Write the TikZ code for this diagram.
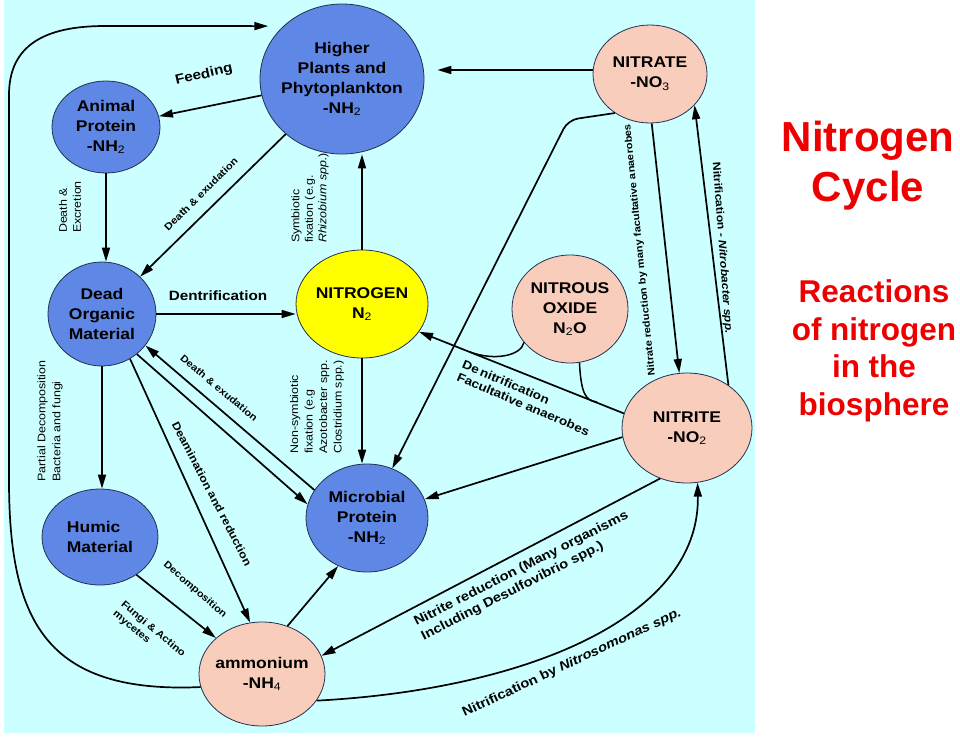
\documentclass[tikz,border=0pt]{standalone}
\usepackage{fontspec}
\setmainfont{Liberation Sans}
\newfontfamily\diafont[FakeStretch=1.13]{Liberation Sans}
\newfontfamily\titlefont{Liberation Sans}
\usepackage{tikz}
\usetikzlibrary{arrows.meta,shapes.geometric,positioning}
\usepackage{xcolor}
\definecolor{CycSky}{HTML}{CCFFFF}
\definecolor{CycBlue}{HTML}{5F88E6}
\definecolor{CycPeach}{HTML}{F9CDBC}
\definecolor{CycYellow}{HTML}{FFFF00}
\definecolor{CycEdge}{HTML}{22304F}
\definecolor{CycRed}{HTML}{EE0000}
\newcommand{\chemsub}[1]{\textsubscript{\mdseries#1}}

\begin{document}
\begin{tikzpicture}[
  x=1pt,y=-1pt,>=Latex,
  flow/.style={-{Triangle[length=14pt,width=8pt]},line width=1.7pt},
  feeder/.style={line width=1.5pt},
  pool/.style={ellipse,draw=CycEdge,line width=0.8pt,inner sep=-3pt,align=center,
    font=\diafont\bfseries\fontsize{15.5}{20}\selectfont},
  organic/.style={pool,fill=CycBlue},
  mineral/.style={pool,fill=CycPeach},
  gas/.style={pool,fill=CycYellow},
  tag/.style 2 args={inner sep=0pt,align=left,font=\diafont\bfseries\fontsize{#1}{#2}\selectfont},
  note/.style 2 args={inner sep=0pt,align=left,font=\diafont\fontsize{#1}{#2}\selectfont},
  heading/.style={inner sep=0pt,align=center,text=CycRed}
]

\useasboundingbox (0,0) rectangle (960,736);
\fill[white] (0,0) rectangle (960,736);
\fill[CycSky] (4,0) rectangle (755,733);

% organic pools (blue), mineral pools (peach), the gas (yellow)
\node[organic,minimum width=164pt,minimum height=150pt] (plants) at (342,79)
  {Higher\\Plants and\\Phytoplankton\\-NH\chemsub{2}};
\node[organic,minimum width=108pt,minimum height=92pt] (animal) at (106,127)
  {Animal\\Protein\\-NH\chemsub{2}};
\node[organic,minimum width=108pt,minimum height=104pt] (dead) at (102,314)
  {Dead\\Organic\\Material};
\node[organic,minimum width=116pt,minimum height=96pt,align=left] (humic) at (100,537)
  {Humic\\Material};
\node[organic,minimum width=122pt,minimum height=108pt] (microbe) at (367,518)
  {Microbial\\Protein\\-NH\chemsub{2}};
\node[gas,minimum width=132pt,minimum height=108pt] (nitrogen) at (362,304)
  {NITROGEN\\N\chemsub{2}};
\node[mineral,minimum width=116pt,minimum height=108pt] (nitrous) at (570,309)
  {NITROUS\\OXIDE\\N\chemsub{2}O};
\node[mineral,minimum width=114pt,minimum height=98pt] (nitrate) at (650,74)
  {NITRATE\\-NO\chemsub{3}};
\node[mineral,minimum width=130pt,minimum height=110pt] (nitrite) at (687,428)
  {NITRITE\\-NO\chemsub{2}};
\node[mineral,minimum width=126pt,minimum height=104pt] (ammonium) at (262,674)
  {ammonium\\-NH\chemsub{4}};

\coordinate (bend) at (568,120);
\coordinate (merge1) at (470,352);
\coordinate (merge2) at (597,402);

% the long loop round the left edge
\draw[flow,shorten >=15pt] (ammonium.192) .. controls (45,694) and (9,620) .. (9,480)
  -- (9,95) .. controls (9,45) and (45,26) .. (105,26) -- (plants.138);

\draw[flow,shorten >=13pt] (nitrate.176) -- (nitrate.176 -| plants.east);
\draw[flow] (plants) -- (animal);
\draw[flow] (animal.south) -- (animal.south |- dead.north);
\draw[flow] (plants) -- (dead);
\draw[flow] (dead.south) -- (dead.south |- humic.north);
\draw[flow] (dead.east) -- (dead.east -| nitrogen.west);
\draw[flow] (microbe.152) -- (dead.-36);
\draw[flow] (dead.-49) -- (microbe.167);
\draw[flow] (dead.-58) -- (ammonium.103);
\draw[flow] (humic.-46) -- (ammonium.142);
\draw[flow] (ammonium.62) -- (microbe.239);
\draw[flow] (nitrogen.north) -- (nitrogen.north |- plants.south);
\draw[flow] (nitrogen.south) -- (nitrogen.south |- microbe.north);
\draw[flow,rounded corners=10pt] (nitrate.228) -- (bend) -- (microbe.63);
\draw[flow] (nitrate.-88) -- (nitrite.98);
\draw[flow] (nitrite.46) -- (nitrate.-35);
\draw[flow] (nitrite.167) -- (nitrogen.-26);
\draw[flow] (nitrite.188) -- (microbe.18);
\draw[flow] (nitrite.242) -- (ammonium.17);
\draw[flow] (ammonium.-26) .. controls (520,690) and (700,620) .. (nitrite.-79);

% nitrous oxide feeds into the denitrification line
\draw[feeder] (nitrous.216) .. controls (521,356) and (494,361) .. (merge1);
\draw[feeder] (nitrous.-80) .. controls (581,392) and (585,401) .. (merge2);

% reaction labels
\node[tag={13.5}{16},rotate=13] (feedlbl) at (204,75) {Feeding};
\node[note={11}{14},rotate=90] (excrlbl) at (70,207) {Death \&\\Excretion};
\node[tag={10}{12},rotate=45] (exudlbl) at (201,194) {Death \& exudation};
\node[note={11}{13.5},rotate=90] (symlbl) at (310,198)
  {Symbiotic\\fixation (e.g.\\\textit{Rhizobium spp.})};
\node[tag={13.5}{16}] (dentlbl) at (218,296) {Dentrification};
\node[note={11}{14.5},rotate=90] (nonsymlbl) at (317,407)
  {Non-symbiotic\\fixation (e.g\\Azotobacter spp.\\Clostridium spp.)};
\node[note={11}{15},rotate=90] (partlbl) at (50,421)
  {Partial Decomposition\\Bacteria and fungi};
\node[tag={9.8}{12},rotate=-40] (exudbacklbl) at (219,388) {Death \& exudation};
\node[tag={11}{13},rotate=-62.5] (deamlbl) at (212,494) {Deamination and reduction};
\node[tag={9.8}{12},rotate=-41] (decolbl) at (195,590) {Decomposition};
\node[tag={10}{12.5},rotate=-40] (fungilbl) at (149,634) {Fungi \& Actino\\mycetes};
\node[tag={12}{13.5},rotate=-23] (denitlbl) at (526,398)
  {De\,nitrification\\Facultative anaerobes};
\node[tag={9.8}{12},rotate=95.6] (nitredlbl) at (640,250)
  {Nitrate reduction by many facultative anaerobes};
\node[tag={10.8}{13},rotate=-85.7] (nitriflbl) at (722,248)
  {Nitrification - \textit{Nitrobacter spp.}};
\node[tag={13}{16},rotate=27] (nitritelbl) at (525,576)
  {Nitrite reduction (Many organisms\\Including Desulfovibrio spp.)};
\node[tag={13}{16},rotate=25] (nitrosolbl) at (572,663)
  {Nitrification by \textit{Nitrosomonas spp.}};

% title block on the white margin
\node[heading,font=\titlefont\bfseries\fontsize{42}{50}\selectfont] (title) at (868,166)
  {Nitrogen\\Cycle};
\node[heading,font=\titlefont\bfseries\fontsize{31.5}{37.5}\selectfont] (subtitle) at (874,351)
  {Reactions\\of nitrogen\\in the\\biosphere};

\end{tikzpicture}
\end{document}
